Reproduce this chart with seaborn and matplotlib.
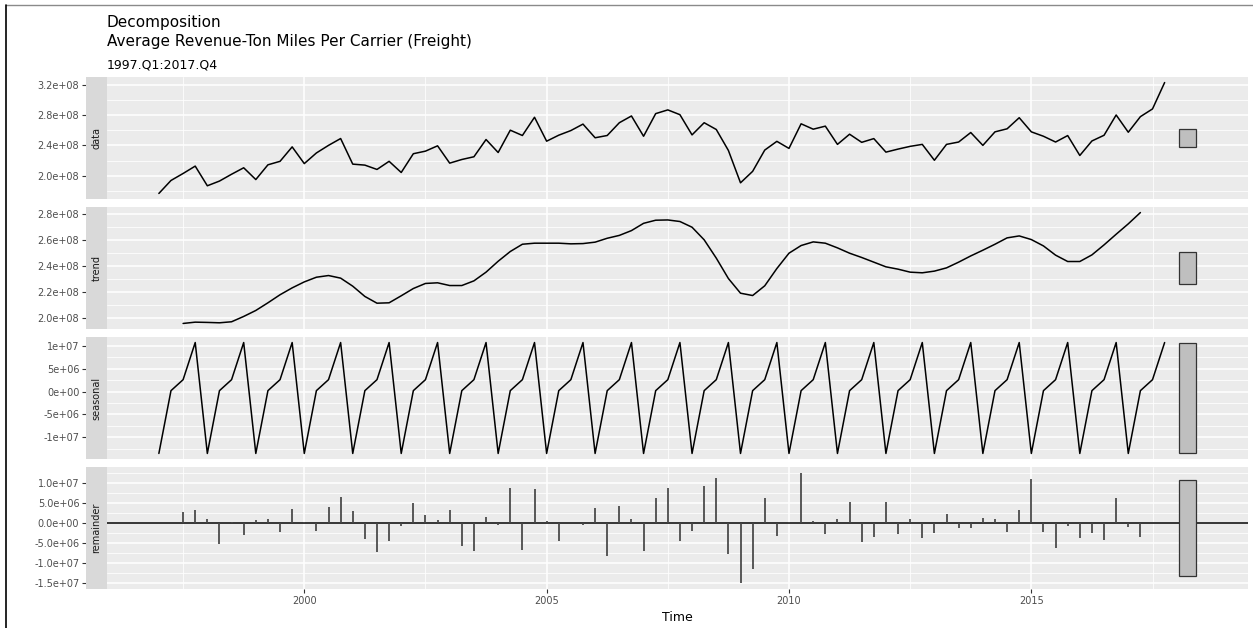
import numpy as np
import pandas as pd
import matplotlib
matplotlib.use("Agg")
import matplotlib.pyplot as plt
import seaborn as sns
from matplotlib.ticker import FixedLocator, FixedFormatter
from matplotlib.lines import Line2D

# ---------------- data (values in millions) ----------------
start_year = 1997
n_quarters = 84
nan = float("nan")

data_mil = [
    176.7, 193.8, 203.0, 212.7,
    186.8, 193.0, 202.0, 210.5,
    195.0, 214.4, 219.0, 238.0,
    216.0, 230.0, 240.0, 249.0,
    215.3, 214.0, 208.3, 219.0,
    204.3, 229.0, 232.4, 239.4,
    216.6, 221.4, 225.0, 247.7,
    230.6, 260.0, 253.0, 277.0,
    245.5, 253.4, 259.5, 268.0,
    250.0, 253.0, 269.8, 278.7,
    252.0, 281.8, 286.7, 280.4,
    253.8, 269.8, 260.9, 233.3,
    190.7, 205.8, 233.8, 245.3,
    236.0, 268.4, 261.3, 265.3,
    241.3, 254.7, 244.0, 248.9,
    231.1, 235.1, 238.7, 241.3,
    220.4, 241.3, 244.4, 256.9,
    240.0, 257.8, 261.8, 276.4,
    257.8, 252.0, 244.4, 252.9,
    226.7, 245.8, 253.3, 280.0,
    257.3, 277.8, 288.0, 322.7,
]

trend_mil = [
    nan, nan, 195.9, 196.9,
    196.7, 196.4, 197.2, 201.3,
    205.9, 211.8, 218.0, 223.3,
    227.9, 231.5, 232.8, 230.8,
    224.6, 216.7, 211.5, 211.8,
    217.2, 222.8, 226.7, 227.2,
    225.1, 225.1, 228.7, 235.4,
    243.8, 251.3, 256.9, 257.7,
    257.7, 257.7, 257.2, 257.4,
    258.5, 261.5, 263.7, 267.4,
    273.0, 275.4, 275.6, 274.4,
    270.0, 260.3, 246.2, 230.5,
    219.2, 217.4, 224.9, 238.2,
    250.0, 255.9, 258.7, 257.7,
    254.1, 250.0, 246.7, 243.1,
    239.5, 237.7, 235.4, 234.9,
    236.2, 238.7, 243.1, 247.9,
    252.3, 256.9, 261.8, 263.3,
    260.5, 255.6, 248.5, 243.6,
    243.6, 248.7, 256.4, 264.6,
    272.6, 281.3, nan, nan,
]

seasonal_mil = [
    -13.5, 0.2, 2.6, 10.7,
    -13.5, 0.2, 2.6, 10.7,
    -13.5, 0.2, 2.6, 10.7,
    -13.5, 0.2, 2.6, 10.7,
    -13.5, 0.2, 2.6, 10.7,
    -13.5, 0.2, 2.6, 10.7,
    -13.5, 0.2, 2.6, 10.7,
    -13.5, 0.2, 2.6, 10.7,
    -13.5, 0.2, 2.6, 10.7,
    -13.5, 0.2, 2.6, 10.7,
    -13.5, 0.2, 2.6, 10.7,
    -13.5, 0.2, 2.6, 10.7,
    -13.5, 0.2, 2.6, 10.7,
    -13.5, 0.2, 2.6, 10.7,
    -13.5, 0.2, 2.6, 10.7,
    -13.5, 0.2, 2.6, 10.7,
    -13.5, 0.2, 2.6, 10.7,
    -13.5, 0.2, 2.6, 10.7,
    -13.5, 0.2, 2.6, 10.7,
    -13.5, 0.2, 2.6, 10.7,
    -13.5, 0.2, 2.6, 10.7,
]

remainder_mil = [
    nan, nan, 2.75, 3.25,
    1.08, -5.33, 0.17, -2.92,
    0.67, 0.92, -2.33, 3.58,
    0.33, -2.08, 4.0, 6.5,
    3.08, -4.08, -7.33, -4.5,
    -0.67, 5.08, 2.0, 0.75,
    3.25, -5.75, -7.08, 1.5,
    -0.5, 8.67, -6.83, 8.58,
    0.5, -4.42, 0.1, -0.4,
    3.83, -8.17, 4.33, 1.08,
    -7.08, 6.25, 8.83, -4.42,
    -2.08, 9.33, 11.33, -7.83,
    -15.17, -11.42, 6.33, -3.25,
    0.25, 12.67, 0.58, -2.67,
    1.0, 5.25, -4.67, -3.58,
    5.17, -2.67, 0.92, -3.75,
    -2.5, 2.17, -1.25, -1.33,
    1.33, 1.08, -2.17, 3.25,
    11.17, -2.33, -6.25, -0.83,
    -3.67, -2.42, -4.25, 6.33,
    -1.08, -3.58, nan, nan,
]

panel_names = ["data", "trend", "seasonal", "remainder"]

data_ticks = [2.0e8, 2.4e8, 2.8e8, 3.2e8]
data_tick_labels = ["2.0e+08", "2.4e+08", "2.8e+08", "3.2e+08"]
trend_ticks = [2.0e8, 2.2e8, 2.4e8, 2.6e8, 2.8e8]
trend_tick_labels = ["2.0e+08", "2.2e+08", "2.4e+08", "2.6e+08", "2.8e+08"]
seasonal_ticks = [-1e7, -5e6, 0, 5e6, 1e7]
seasonal_tick_labels = ["-1e+07", "-5e+06", "0e+00", "5e+06", "1e+07"]
remainder_ticks = [-1.5e7, -1.0e7, -5e6, 0, 5e6, 1e7]
remainder_tick_labels = ["-1.5e+07", "-1.0e+07", "-5.0e+06", "0.0e+00", "5.0e+06", "1.0e+07"]

x_ticks = [2000, 2005, 2010, 2015]
x_tick_labels = ["2000", "2005", "2010", "2015"]

title_line1 = "Decomposition"
title_line2 = "Average Revenue-Ton Miles Per Carrier (Freight)"
subtitle = "1997.Q1:2017.Q4"
x_label = "Time"

# ---------------- long table ----------------
time = start_year + np.arange(n_quarters) / 4.0
scale = 1e6
df = pd.concat([
    pd.DataFrame({"time": time, "component": "data", "value": np.array(data_mil) * scale}),
    pd.DataFrame({"time": time, "component": "trend", "value": np.array(trend_mil) * scale}),
    pd.DataFrame({"time": time, "component": "seasonal", "value": np.array(seasonal_mil) * scale}),
    pd.DataFrame({"time": time, "component": "remainder", "value": np.array(remainder_mil) * scale}),
], ignore_index=True)

ticks = {
    "data": (data_ticks, data_tick_labels),
    "trend": (trend_ticks, trend_tick_labels),
    "seasonal": (seasonal_ticks, seasonal_tick_labels),
    "remainder": (remainder_ticks, remainder_tick_labels),
}

# ---------------- style ----------------
sns.set_theme(style="darkgrid")
plt.rcParams["font.family"] = ["DejaVu Sans"]

W, H = 1253, 628
fig = plt.figure(figsize=(W / 100, H / 100), dpi=100)
fig.patch.set_facecolor("white")

def fx(px):
    return px / W

def fy(px):
    return 1 - px / H

panel_left, panel_right, strip_left = 107, 1248, 86
panel_tops = [77, 207, 337, 467]
panel_h = 122

# range bars: common length = smallest component range
ranges = {}
for name in panel_names:
    v = df.loc[df.component == name, "value"].dropna()
    lo, hi = v.min(), v.max()
    if name == "remainder":
        lo, hi = min(lo, 0), max(hi, 0)
    ranges[name] = (lo, hi)
bar_len = min(hi - lo for lo, hi in ranges.values())
bar_x0 = time[-1] + 0.30
bar_x1 = time[-1] + 0.65
x_lo, x_hi = time[0], bar_x1
x_pad = 0.05 * (x_hi - x_lo)

tick_col = "#333333"
lab_col = "#4D4D4D"
tsize = 7.0

for i, name in enumerate(panel_names):
    top = panel_tops[i]
    ax = fig.add_axes([fx(panel_left), fy(top + panel_h), fx(panel_right) - fx(panel_left), panel_h / H])
    ax.set_facecolor("#EBEBEB")
    sub = df[df.component == name].dropna()

    if name == "remainder":
        ax.axhline(0, color="black", lw=1.1, zorder=2)
        ax.vlines(sub["time"], 0, sub["value"], color="#454545", lw=1.25, zorder=3)
    else:
        sns.lineplot(data=sub, x="time", y="value", ax=ax, color="black", lw=1.1,
                     estimator=None, sort=True, zorder=3)

    lo, hi = ranges[name]
    mid = (lo + hi) / 2
    ax.bar(x=(bar_x0 + bar_x1) / 2, height=bar_len, bottom=mid - bar_len / 2,
           width=bar_x1 - bar_x0, color="#BFBFBF", edgecolor="#333333", lw=0.9, zorder=3)

    r = hi - lo
    ylo, yhi = lo - 0.05 * r, hi + 0.05 * r
    ax.set_xlim(x_lo - x_pad, x_hi + x_pad)
    ax.set_ylim(ylo, yhi)

    tk, tl = ticks[name]
    step = tk[1] - tk[0]
    ax.yaxis.set_major_locator(FixedLocator(tk))
    ax.yaxis.set_major_formatter(FixedFormatter(tl))
    ymin_cand = [tk[0] - step / 2] + [t + step / 2 for t in tk]
    ax.yaxis.set_minor_locator(FixedLocator([m for m in ymin_cand if ylo <= m <= yhi]))
    ax.xaxis.set_major_locator(FixedLocator(x_ticks))
    ax.xaxis.set_minor_locator(FixedLocator([1997.5, 2002.5, 2007.5, 2012.5, 2017.5]))

    ax.grid(which="major", color="white", lw=1.1)
    ax.grid(which="minor", color="white", lw=0.55)
    ax.set_axisbelow(True)
    for s in ax.spines.values():
        s.set_visible(False)
    ax.spines["left"].set_position(("outward", (panel_left - strip_left) * 0.72))
    ax.tick_params(axis="y", which="major", left=True, length=3.2, width=0.8, color=tick_col,
                   labelsize=tsize, labelcolor=lab_col, pad=1.6)
    ax.tick_params(axis="y", which="minor", left=False, length=0)
    ax.tick_params(axis="x", which="minor", bottom=False, length=0)
    ax.set_xlabel("")
    ax.set_ylabel("")
    if i == len(panel_names) - 1:
        ax.xaxis.set_major_formatter(FixedFormatter(x_tick_labels))
        ax.tick_params(axis="x", which="major", bottom=True, length=3.2, width=0.8, color=tick_col,
                       labelsize=tsize, labelcolor=lab_col, pad=1.8)
    else:
        ax.tick_params(axis="x", which="major", bottom=False, labelbottom=False, length=0)

    # strip on the left
    sax = fig.add_axes([fx(strip_left), fy(top + panel_h), fx(panel_left) - fx(strip_left), panel_h / H])
    sax.set_facecolor("#D9D9D9")
    sax.set_xticks([])
    sax.set_yticks([])
    for s in sax.spines.values():
        s.set_visible(False)
    sax.text(0.5, 0.5, name, rotation=90, ha="center", va="center", fontsize=tsize,
             color="#1A1A1A", transform=sax.transAxes)

# titles
fig.text(fx(107), fy(26.5), title_line1, fontsize=11, color="black", ha="left", va="baseline")
fig.text(fx(107), fy(46.0), title_line2, fontsize=11, color="black", ha="left", va="baseline")
fig.text(fx(107), fy(68.3), subtitle, fontsize=9.0, color="black", ha="left", va="baseline")
fig.text(fx((panel_left + panel_right) / 2), fy(621), x_label, fontsize=9.0, color="black",
         ha="center", va="baseline")

# outer frame lines (screenshot border)
fig.add_artist(Line2D([fx(5.5), 1], [fy(5), fy(5)], color="#8a8a8a", lw=1.0, transform=fig.transFigure))
fig.add_artist(Line2D([fx(5.5), fx(5.5)], [fy(5), 0], color="black", lw=1.2, transform=fig.transFigure))

fig.savefig("out.png", dpi=100, facecolor="white")
